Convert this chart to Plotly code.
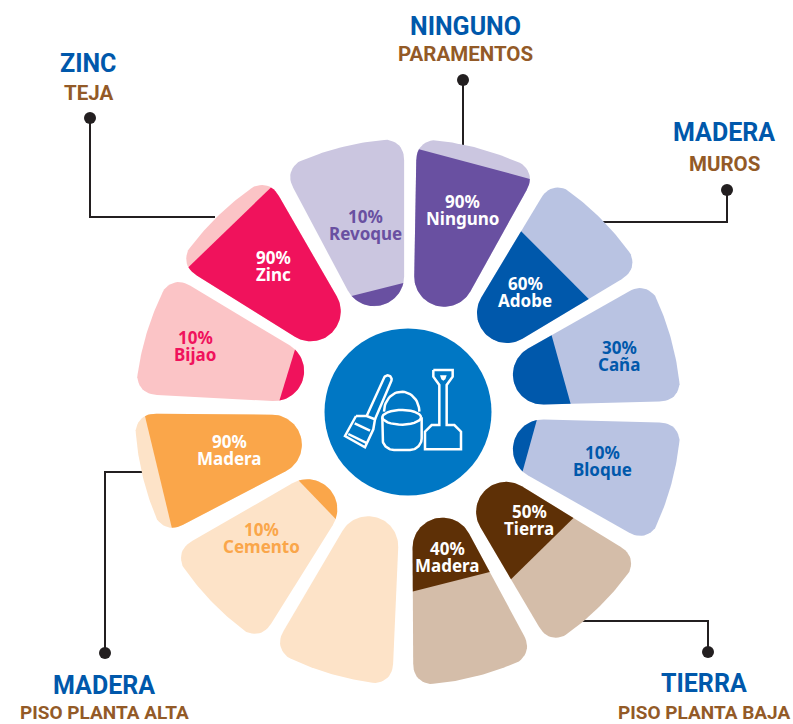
"""Materiales de la vivienda: radial infographic with twelve rounded wedges."""

import numpy as np
import plotly.graph_objects as go

# one wedge per material, clockwise from the top
materials = ["Ninguno", "Adobe", "Caña", "Bloque", "Tierra", "Madera",
             "", "Cemento", "Madera", "Bijao", "Zinc", "Revoque"]
percents = [90, 60, 30, 10, 50, 40, 0, 10, 90, 10, 90, 10]
groups = ["paramentos", "muros", "muros", "muros", "baja", "baja",
          "alta", "alta", "alta", "teja", "teja", "paramentos"]

headers = ["ZINC", "NINGUNO", "MADERA", "TIERRA", "MADERA"]
subheaders = ["TEJA", "PARAMENTOS", "MUROS", "PISO PLANTA BAJA", "PISO PLANTA ALTA"]

# group -> (light, dark)
PALETTE = {
    "paramentos": ("#CBC6E0", "#6950A1"),
    "muros": ("#B9C3E2", "#0058AB"),
    "baja": ("#D4BDA9", "#5E3006"),
    "alta": ("#FDE3C8", "#FAA64A"),
    "teja": ("#FBC4C6", "#F0125C"),
}
LABEL_POS = [(462, 210), (525, 292), (619, 356), (602, 461), (529, 520), (447, 557),
             None, (261, 538), (229, 450), (195, 346), (273, 266), (365, 225)]
# the wedges in the original are not perfectly evenly spaced
THETA_SHIFT = [0, 0, -0.5, 0.5, 0.5, 0.7, 1.5, 1, 1.5, 2, 1, 1]

CX, CY = 408, 412
R_TIP, R_OUT = 110, 273
APEX = 16
HALF = np.radians(14)


def wedge_outline():
    """Rounded wedge in local (u, v) coordinates, u pointing outwards."""
    c = (R_TIP - APEX * np.sin(HALF)) / (1 - np.sin(HALF))
    r = c - R_TIP
    # inner end: circle tangent to both sides
    a = np.linspace(-np.pi / 2 + HALF, np.pi / 2 - HALF, 40)
    inner_u = c - r * np.cos(a)
    inner_v = r * np.sin(a)

    def side(u):
        return (u - APEX) * np.tan(HALF)

    # meeting point of the side with the outer arc
    uc = 262.0
    vc = side(uc)
    ang = np.arctan2(vc, uc)
    trim = np.radians(3.5)
    p0 = np.array([uc - 17, side(uc - 17)])
    p1 = np.array([uc, vc])
    p2 = np.array([R_OUT * np.cos(ang - trim), R_OUT * np.sin(ang - trim)])
    t = np.linspace(0, 1, 12)[:, None]
    corner = (1 - t) ** 2 * p0 + 2 * t * (1 - t) * p1 + t ** 2 * p2
    arc_a = np.linspace(ang - trim, -(ang - trim), 30)
    arc_u = R_OUT * np.cos(arc_a)
    arc_v = R_OUT * np.sin(arc_a)
    u = np.concatenate([inner_u, corner[:, 0], arc_u, corner[::-1, 0]])
    v = np.concatenate([inner_v, corner[:, 1], arc_v, -corner[::-1, 1]])
    return u, v


def clip_below(u, v, level):
    """Keep the part of the outline with u <= level."""
    out_u, out_v = [], []
    for i in range(len(u)):
        j = (i + 1) % len(u)
        if u[i] <= level:
            out_u.append(u[i])
            out_v.append(v[i])
        if (u[i] <= level) != (u[j] <= level):
            k = (level - u[i]) / (u[j] - u[i])
            out_u.append(level)
            out_v.append(v[i] + k * (v[j] - v[i]))
    return np.array(out_u), np.array(out_v)


def to_page(u, v, theta):
    t = np.radians(theta)
    return CX + u * np.sin(t) + v * np.cos(t), CY - u * np.cos(t) + v * np.sin(t)


def ellipse(cx, cy, rx, ry, start, end):
    a = np.radians(np.linspace(start, end, 30))
    return list(zip(cx + rx * np.cos(a), cy + ry * np.sin(a)))


fig = go.Figure()

# connectors, drawn under the wedges
connectors = [
    ([90, 90, 215], [118, 217, 217]),
    ([463, 463], [80, 145]),
    ([727, 727, 603], [190, 222, 222]),
    ([708, 708, 580], [652, 621, 621]),
    ([105, 105, 148], [653, 472, 472]),
]
for xs, ys in connectors:
    fig.add_trace(go.Scatter(x=xs, y=ys, mode="lines",
                             line=dict(color="#231F20", width=2), hoverinfo="skip"))
    fig.add_trace(go.Scatter(x=xs[:1], y=ys[:1], mode="markers",
                             marker=dict(color="#231F20", size=12), hoverinfo="skip"))

out_u, out_v = wedge_outline()
for i, (name, pct, group) in enumerate(zip(materials, percents, groups)):
    theta = 15 + 30 * i + THETA_SHIFT[i]
    light, dark = PALETTE[group]
    x, y = to_page(out_u, out_v, theta)
    fig.add_trace(go.Scatter(x=x, y=y, mode="lines", fill="toself", fillcolor=light,
                             line=dict(width=0), hoverinfo="skip"))
    if pct:
        level = R_TIP + pct / 100 * (R_OUT - R_TIP)
        du, dv = clip_below(out_u, out_v, level)
        x, y = to_page(du, dv, theta)
        fig.add_trace(go.Scatter(x=x, y=y, mode="lines", fill="toself", fillcolor=dark,
                                 line=dict(width=0), hoverinfo="skip"))
        lx, ly = LABEL_POS[i]
        color = dark if pct <= 30 else "white"
        for text, dy in ((f"{pct}%", -8.5), (name, 8.5)):
            fig.add_annotation(x=lx, y=ly + dy, text=f"<b>{text}</b>", showarrow=False,
                               font=dict(family="Noto Sans", size=17, color=color))

# icon strokes, in pixels of a 3x crop of the centre circle
ICON_STROKES = [
    # shovel
    [(340, 120), (398, 120), (398, 140), (380, 165), (380, 285), (403, 285), (423, 305),
     (423, 358), (315, 358), (315, 305), (335, 285), (358, 285), (358, 165), (340, 140), (340, 120)],
    # bucket rim
    ellipse(245, 262, 58, 22, 0, 360),
    # bucket body
    [(187, 262), (187, 325)] + ellipse(222, 325, 35, 35, 180, 90) + ellipse(270, 325, 35, 35, 90, 0) + [(305, 262)],
    # bucket handle
    ellipse(245, 245, 53, 60, 180, 360),
    # broom handle
    [(140, 258)] + [(188, 148)] + ellipse(203, 148, 12, 12, 200, 380) + [(165, 268)],
    # broom head
    [(108, 258), (140, 258), (165, 268), (160, 298), (135, 352), (75, 318), (108, 258)],
    [(104, 280), (150, 302)],
    [(85, 312), (142, 340)],
]
SHOVEL_HOLE = [(360, 136), (380, 136), (376, 148), (370, 152), (364, 148), (360, 136)]

fig.add_shape(type="circle", x0=CX - 83.5, x1=CX + 83.5, y0=CY - 83.5, y1=CY + 83.5,
              fillcolor="#0077C4", line_width=0, layer="below")
for stroke in ICON_STROKES:
    fig.add_trace(go.Scatter(x=[320 + p[0] / 3 for p in stroke],
                             y=[330 + p[1] / 3 for p in stroke],
                             mode="lines", line=dict(color="white", width=2.5),
                             hoverinfo="skip"))
fig.add_trace(go.Scatter(x=[320 + p[0] / 3 for p in SHOVEL_HOLE],
                         y=[330 + p[1] / 3 for p in SHOVEL_HOLE],
                         mode="lines", fill="toself", fillcolor="white",
                         line=dict(width=0), hoverinfo="skip"))

header_pos = [(88, 63, 93), (465, 26, 54), (724, 132, 164), (704, 683, 712), (104, 685, 712)]
sub_sizes = [20.5, 20.5, 20.5, 19, 19]
for head, sub, (x, y1, y2), size in zip(headers, subheaders, header_pos, sub_sizes):
    fig.add_annotation(x=x, y=y1, text=f"<b>{head}</b>", showarrow=False,
                       font=dict(family="Roboto", size=25, color="#0058AB"))
    fig.add_annotation(x=x, y=y2, text=f"<b>{sub}</b>", showarrow=False,
                       font=dict(family="Roboto", size=size, color="#935A27"))

fig.update_layout(
    width=793,
    height=724,
    showlegend=False,
    paper_bgcolor="white",
    plot_bgcolor="white",
    margin=dict(l=0, r=0, t=0, b=0),
    xaxis=dict(range=[0, 793], visible=False),
    yaxis=dict(range=[724, 0], visible=False),
)

# drop the default page margin so the figure fills the window exactly
fig.write_html("out.html", config=dict(displayModeBar=False),
               post_script="document.body.style.margin = '0';")
